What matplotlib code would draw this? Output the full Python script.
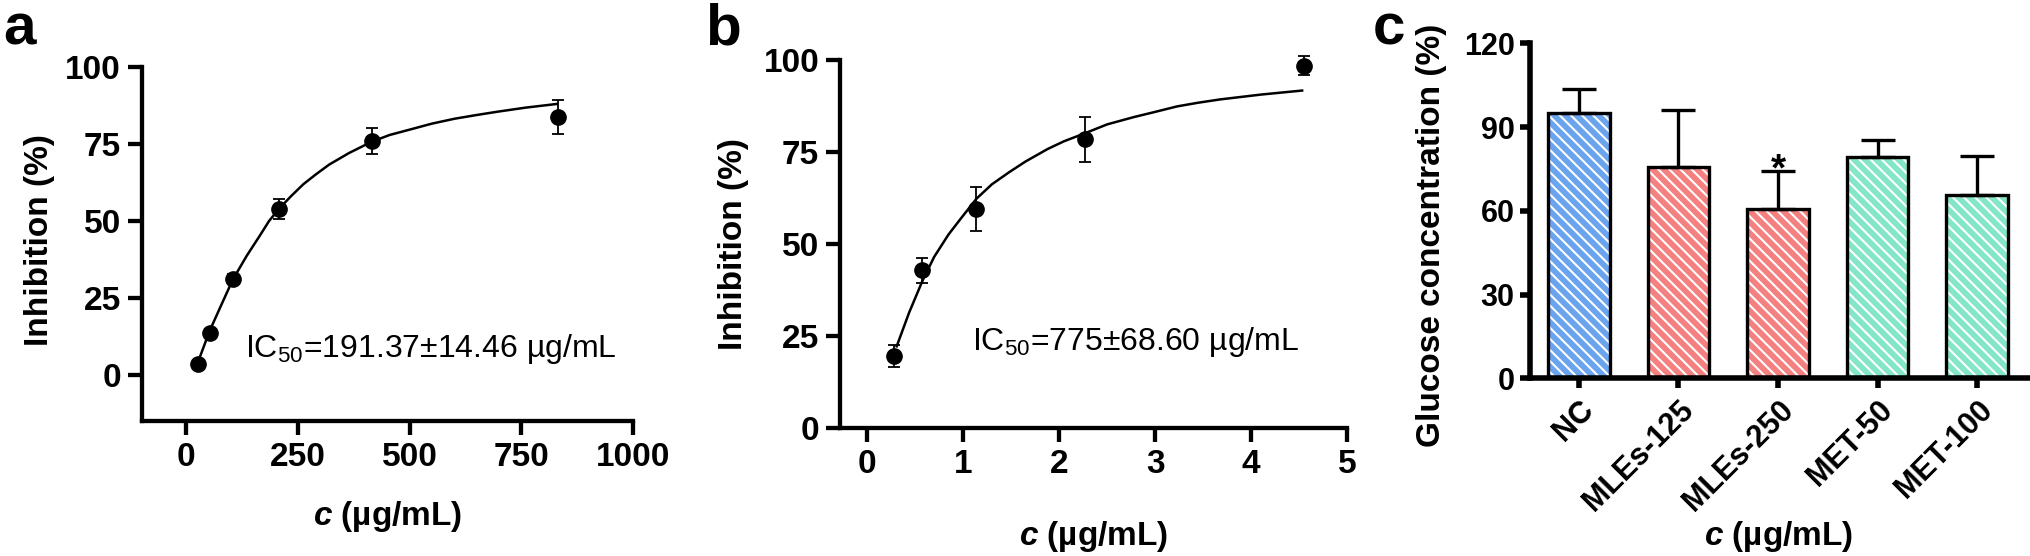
import matplotlib
matplotlib.use("Agg")
import matplotlib.pyplot as plt

# panel a: inhibition vs concentration (ug/mL)
conc_a = [26.04, 52.08, 104.17, 208.33, 416.67, 833.33]
inh_a = [3.5, 13.6, 31.1, 53.8, 75.9, 83.7]
err_a = [1.0, 1.2, 1.5, 3.3, 4.2, 5.6]
# fitted curve
fit_a_x = [26, 52, 78, 104, 135, 165, 185, 206, 235, 262, 290, 320, 365,
           415, 455, 504, 550, 601, 650, 698, 760, 830]
fit_a_y = [4.0, 14.1, 22.5, 30.8, 38.5, 45.2, 49.8, 53.6, 58.0, 61.8, 65.0,
           68.2, 72.0, 75.6, 77.8, 79.7, 81.5, 83.1, 84.3, 85.4, 86.7, 87.9]
ic50_a = "IC$\\mathregular{_{50}}$=191.37±14.46 µg/mL"

# panel b
conc_b = [0.284, 0.569, 1.1375, 2.275, 4.55]
inh_b = [19.5, 42.8, 59.4, 78.4, 98.5]
err_b = [3.0, 3.3, 6.0, 6.2, 2.5]
fit_b_x = [0.31, 0.44, 0.58, 0.70, 0.85, 0.98, 1.14, 1.30, 1.48, 1.65, 1.88,
           2.05, 2.27, 2.50, 2.78, 3.00, 3.23, 3.45, 3.68, 4.10, 4.53]
fit_b_y = [22.2, 31.4, 40.1, 46.5, 52.6, 57.0, 62.3, 66.2, 69.5, 72.4, 75.8,
           77.9, 80.1, 82.5, 84.5, 85.9, 87.4, 88.4, 89.3, 90.6, 91.7]
ic50_b = "IC$\\mathregular{_{50}}$=775±68.60 µg/mL"

# panel c: glucose concentration
groups = ["NC", "MLEs-125", "MLEs-250", "MET-50", "MET-100"]
glucose = [95.0, 75.6, 60.7, 79.2, 65.8]
glucose_err = [8.5, 20.4, 13.6, 6.3, 13.9]
bar_colors = ["#6aa3ee", "#f58080", "#f58080", "#84e6c8", "#84e6c8"]
signif = ["", "", "*", "", ""]

plt.rcParams["font.family"] = ["Liberation Sans", "DejaVu Sans"]
plt.rcParams["font.weight"] = "bold"
plt.rcParams["mathtext.fontset"] = "custom"
plt.rcParams["mathtext.it"] = "Liberation Sans:italic:bold"
plt.rcParams["mathtext.rm"] = "Liberation Sans:bold"
plt.rcParams["mathtext.bf"] = "Liberation Sans:bold"
plt.rcParams["hatch.linewidth"] = 1.5

W, H = 2031, 556
fig = plt.figure(figsize=(W / 100, H / 100), dpi=100)


def add_ax(left, top, right, bottom):
    return fig.add_axes([left / W, 1 - bottom / H, (right - left) / W, (bottom - top) / H])


def style(ax, lw, tlen, lsize, xpad, ypad):
    for s in ["top", "right"]:
        ax.spines[s].set_visible(False)
    for s in ["left", "bottom"]:
        ax.spines[s].set_linewidth(lw)
        ax.spines[s].set_capstyle("projecting")
    ax.tick_params(axis="both", width=lw, length=tlen, labelsize=lsize)
    ax.tick_params(axis="x", pad=xpad)
    ax.tick_params(axis="y", pad=ypad)


def ftext(x, y, s, **kw):
    fig.text(x / W, 1 - y / H, s, **kw)


# ---- a ----
ax_a = add_ax(141.7, 66.7, 632.7, 420.7)
ax_a.plot(fit_a_x, fit_a_y, color="black", lw=1.8, solid_joinstyle="round")
ax_a.errorbar(conc_a, inh_a, yerr=err_a, fmt="o", color="black", ms=11,
              elinewidth=1.3, capsize=4, capthick=1.3)
ax_a.set_xlim(-100, 1000)
ax_a.set_ylim(-15, 100)
ax_a.set_xticks([0, 250, 500, 750, 1000])
ax_a.set_yticks([0, 25, 50, 75, 100])
style(ax_a, 3.1, 10, 24, 5, 5)
ax_a.text(131, 8.4, ic50_a, fontsize=23, fontweight="normal", va="center", ha="left")

# ---- b ----
ax_b = add_ax(840, 60, 1347.3, 428)
ax_b.plot(fit_b_x, fit_b_y, color="black", lw=1.8, solid_joinstyle="round")
ax_b.errorbar(conc_b, inh_b, yerr=err_b, fmt="o", color="black", ms=11,
              elinewidth=1.3, capsize=4, capthick=1.3, clip_on=False)
ax_b.set_xlim(-0.28, 5)
ax_b.set_ylim(0, 100)
ax_b.set_xticks([0, 1, 2, 3, 4, 5])
ax_b.set_yticks([0, 25, 50, 75, 100])
style(ax_b, 3.1, 10, 24, 5, 5)
ax_b.text(1.09, 23.3, ic50_b, fontsize=23, fontweight="normal", va="center", ha="left")

# ---- c ----
ax_c = add_ax(1530, 43.3, 2028, 378.3)
xpos = list(range(len(groups)))
ax_c.bar(xpos, glucose, width=0.62, color=bar_colors, edgecolor="white",
         hatch="\\\\\\", linewidth=0, zorder=2)
ax_c.bar(xpos, glucose, width=0.62, fill=False, edgecolor="black",
         linewidth=2.4, zorder=3)
ax_c.errorbar(xpos, glucose, yerr=[[0] * len(glucose), glucose_err], fmt="none",
              ecolor="black", elinewidth=2.4, capsize=12, capthick=2.4, zorder=4)
for i, mark in enumerate(signif):
    if mark:
        ax_c.text(xpos[i], glucose[i] + glucose_err[i] - 3.5, mark, fontsize=28,
                  ha="center", va="baseline")
ax_c.set_xlim(-0.49, 4.51)
ax_c.set_ylim(0, 120)
ax_c.set_yticks([0, 30, 60, 90, 120])
ax_c.set_xticks(xpos)
ax_c.set_xticklabels(groups, rotation=45, ha="right", va="top", rotation_mode="anchor")
style(ax_c, 4.0, 7, 22, 5, 4)

# axis labels
ftext(40, 240, "Inhibition (%)", fontsize=24, rotation=90, ha="center", va="center")
ftext(733.5, 244, "Inhibition (%)", fontsize=24, rotation=90, ha="center", va="center")
ftext(1431.5, 235, "Glucose concentration (%)", fontsize=24, rotation=90,
      ha="center", va="center")
ftext(387.5, 516.7, "$c$ (µg/mL)", fontsize=24, ha="center", va="center")
ftext(1093.5, 536, "$c$ (µg/mL)", fontsize=24, ha="center", va="center")
ftext(1779, 537, "$c$ (µg/mL)", fontsize=24, ha="center", va="center")

# panel letters
ftext(3, 45, "a", fontsize=42, ha="left", va="baseline")
ftext(705, 45, "b", fontsize=42, ha="left", va="baseline")
ftext(1373, 45, "c", fontsize=42, ha="left", va="baseline")

fig.savefig("out.png", dpi=100)
